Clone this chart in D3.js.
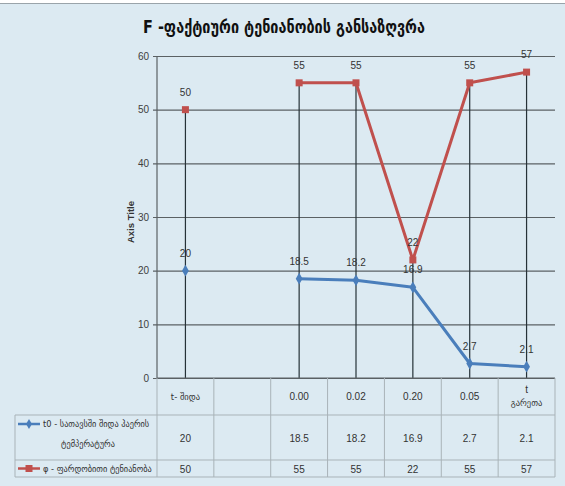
<!DOCTYPE html>
<html>
<head>
<meta charset="utf-8">
<script src="https://cdn.jsdelivr.net/npm/d3@7"></script>
<style>
  html, body { margin: 0; padding: 0; background: #dceaf2; }
  svg { display: block; }
</style>
</head>
<body>
<svg id="chart" width="565" height="486"></svg>
<script>
// ---- data ----
const categories = ["t- შიდა", "", "0.00", "0.02", "0.20", "0.05", "t\nგარეთა"];
const tempValues = [20, null, 18.5, 18.2, 16.9, 2.7, 2.1];
const humidityValues = [50, null, 55, 55, 22, 55, 57];
const seriesNames = ["t0 - სათავსში შიდა ჰაერის\nტემპერატურა", "φ - ფარდობითი ტენიანობა"];
const yTicks = [0, 10, 20, 30, 40, 50, 60];
const titleText = "F -ფაქტიური ტენიანობის განსაზღვრა";
const axisTitle = "Axis Title";

// ---- layout ----
const svg = d3.select("#chart");
const W = 565, H = 486;
const plotLeft = 157, plotRight = 555, plotTop = 56, plotBottom = 378;
const tableLeft = 15;
const rowLines = [378, 415, 460, 477];

const blue = "#4a7ebb", red = "#c0504d";
const numFont = "'Liberation Sans Narrow', 'Arial Narrow', 'Liberation Sans', sans-serif";
const geoFont = "'DejaVu Sans', 'Noto Sans', sans-serif";

svg.append("rect").attr("width", W).attr("height", H).attr("fill", "#dceaf2");
svg.append("rect").attr("width", W).attr("height", 3).attr("fill", "#ffffff");
svg.append("line").attr("x1", 0).attr("x2", W).attr("y1", 3.5).attr("y2", 3.5)
  .attr("stroke", "#9aa4aa").attr("stroke-width", 1);

const x = d3.scaleBand().domain(d3.range(categories.length)).range([plotLeft, plotRight]).padding(0);
const y = d3.scaleLinear().domain([0, 60]).range([plotBottom, plotTop]);
const cx = i => x(i) + x.bandwidth() / 2;

// title
svg.append("text")
  .attr("x", 284).attr("y", 33)
  .attr("text-anchor", "middle")
  .attr("font-family", geoFont)
  .attr("font-weight", "bold")
  .attr("font-size", 17)
  .attr("textLength", 282).attr("lengthAdjust", "spacingAndGlyphs")
  .attr("fill", "#111")
  .text(titleText);

// gridlines
const yAxis = d3.axisLeft(y).tickValues(yTicks).tickSize(-(plotRight - plotLeft)).tickPadding(8);
const gy = svg.append("g").attr("transform", `translate(${plotLeft},0)`).call(yAxis);
gy.select(".domain").remove();
gy.selectAll(".tick line").attr("stroke", "#5b6164").attr("stroke-width", 1.2)
  .attr("x1", -4);
gy.selectAll(".tick text").attr("font-family", numFont).attr("font-size", 10).attr("fill", "#404040");

// y axis line
svg.append("line").attr("x1", plotLeft).attr("x2", plotLeft).attr("y1", plotTop).attr("y2", plotBottom)
  .attr("stroke", "#5b6164").attr("stroke-width", 1.2);

// axis title
svg.append("text")
  .attr("transform", `translate(134,222) rotate(-90)`)
  .attr("text-anchor", "middle")
  .attr("font-family", "'Liberation Sans', Arial, sans-serif")
  .attr("font-weight", "bold")
  .attr("font-size", 9.5)
  .attr("fill", "#333")
  .text(axisTitle);

// drop lines
const maxVals = categories.map((c, i) => {
  const vals = [tempValues[i], humidityValues[i]].filter(v => v != null);
  return vals.length ? d3.max(vals) : null;
});
svg.append("g").selectAll("line").data(maxVals.map((v, i) => ({ v, i })).filter(d => d.v != null))
  .join("line")
  .attr("x1", d => cx(d.i)).attr("x2", d => cx(d.i))
  .attr("y1", d => y(d.v)).attr("y2", y(0))
  .attr("stroke", "#263238").attr("stroke-width", 1.2);

// lines
const lineGen = d3.line().defined(d => d.v != null).x(d => cx(d.i)).y(d => y(d.v));
const tempData = tempValues.map((v, i) => ({ v, i }));
const humData = humidityValues.map((v, i) => ({ v, i }));

svg.append("path").datum(humData).attr("d", lineGen)
  .attr("fill", "none").attr("stroke", red).attr("stroke-width", 3).attr("stroke-linejoin", "round");
svg.append("path").datum(tempData).attr("d", lineGen)
  .attr("fill", "none").attr("stroke", blue).attr("stroke-width", 3).attr("stroke-linejoin", "round");

// markers
svg.append("g").selectAll("rect").data(humData.filter(d => d.v != null)).join("rect")
  .attr("x", d => cx(d.i) - 3.5).attr("y", d => y(d.v) - 3.5)
  .attr("width", 7).attr("height", 7).attr("fill", red);
svg.append("g").selectAll("path").data(tempData.filter(d => d.v != null)).join("path")
  .attr("d", d3.symbol().type(d3.symbolDiamond).size(40))
  .attr("transform", d => `translate(${cx(d.i)},${y(d.v)})`)
  .attr("fill", blue);

// data labels
svg.append("g").selectAll("text").data(humData.filter(d => d.v != null)).join("text")
  .attr("x", d => cx(d.i)).attr("y", d => y(d.v) - 14)
  .attr("text-anchor", "middle")
  .attr("font-family", numFont).attr("font-size", 10).attr("fill", "#333")
  .text(d => d.v);
svg.append("g").selectAll("text").data(tempData.filter(d => d.v != null)).join("text")
  .attr("x", d => cx(d.i)).attr("y", d => y(d.v) - 14)
  .attr("text-anchor", "middle")
  .attr("font-family", numFont).attr("font-size", 10).attr("fill", "#333")
  .text(d => d.v);

// ---- data table ----
const tbl = svg.append("g");
const gridStroke = "#a9b3b8";
tbl.append("line").attr("x1", plotLeft).attr("x2", plotRight).attr("y1", rowLines[0]).attr("y2", rowLines[0])
  .attr("stroke", "#5b6164").attr("stroke-width", 1.2);
rowLines.slice(1).forEach(yy => {
  tbl.append("line").attr("x1", tableLeft).attr("x2", plotRight).attr("y1", yy).attr("y2", yy)
    .attr("stroke", gridStroke);
});
const bounds = categories.map((c, i) => x(i)).concat([plotRight]);
bounds.forEach(bx => {
  tbl.append("line").attr("x1", bx).attr("x2", bx).attr("y1", rowLines[0]).attr("y2", rowLines[3])
    .attr("stroke", gridStroke);
});
tbl.append("line").attr("x1", tableLeft).attr("x2", tableLeft).attr("y1", rowLines[1]).attr("y2", rowLines[3])
  .attr("stroke", gridStroke);

// header labels
categories.forEach((c, i) => {
  const lines = c.split("\n");
  const midY = (rowLines[0] + rowLines[1]) / 2;
  lines.forEach((ln, k) => {
    const geo = /[\u10A0-\u10FF]/.test(ln);
    tbl.append("text")
      .attr("x", cx(i))
      .attr("y", midY + 3 + (k - (lines.length - 1) / 2) * 13)
      .attr("text-anchor", "middle")
      .attr("font-family", geo ? geoFont : numFont)
      .attr("font-size", geo ? 8.5 : 10)
      .attr("fill", "#333")
      .text(ln);
  });
});

// value rows
[tempValues, humidityValues].forEach((vals, r) => {
  const midY = (rowLines[r + 1] + rowLines[r + 2]) / 2;
  vals.forEach((v, i) => {
    if (v == null) return;
    tbl.append("text")
      .attr("x", cx(i)).attr("y", midY + 4)
      .attr("text-anchor", "middle")
      .attr("font-family", numFont).attr("font-size", 10).attr("fill", "#333")
      .text(v);
  });
});

// legend keys in table
const keyColors = [blue, red];
const keyY = [424, 468.5];
seriesNames.forEach((name, r) => {
  const ky = keyY[r];
  tbl.append("line").attr("x1", 18).attr("x2", 40).attr("y1", ky).attr("y2", ky)
    .attr("stroke", keyColors[r]).attr("stroke-width", 2.5);
  if (r === 0) {
    tbl.append("path").attr("d", d3.symbol().type(d3.symbolDiamond).size(30))
      .attr("transform", `translate(29,${ky})`).attr("fill", blue);
  } else {
    tbl.append("rect").attr("x", 25.5).attr("y", ky - 3.5).attr("width", 7).attr("height", 7).attr("fill", red);
  }
  const lines = name.split("\n");
  lines.forEach((ln, k) => {
    tbl.append("text")
      .attr("x", k === 0 ? 43 : 88)
      .attr("y", ky + 3 + k * 20)
      .attr("text-anchor", k === 0 ? "start" : "middle")
      .attr("font-family", geoFont).attr("font-size", 8.3)
      .attr("fill", "#333")
      .text(ln);
  });
});
</script>
</body>
</html>
